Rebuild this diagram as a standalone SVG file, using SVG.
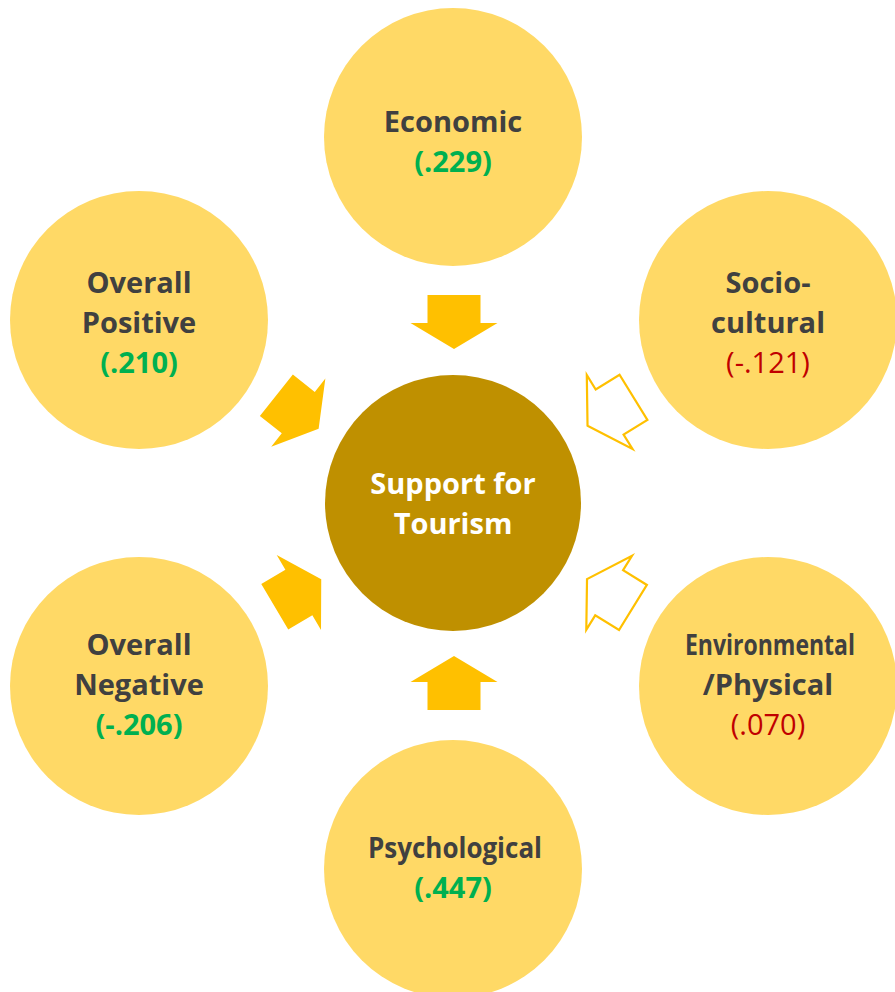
<svg xmlns="http://www.w3.org/2000/svg" width="895" height="992" viewBox="0 0 895 992">
  <style>
    .sat { fill: #FFD966; }
    .hub { fill: #BF9000; }
    .lbl { font-family: "Open Sans", "Noto Sans", "DejaVu Sans", sans-serif; font-size: 29px; font-weight: bold; fill: #404040; text-anchor: middle; }
    .hubl { font-family: "Open Sans", "Noto Sans", "DejaVu Sans", sans-serif; font-size: 29px; font-weight: bold; fill: #FFFFFF; text-anchor: middle; }
    .pos { font-family: "Open Sans", "Noto Sans", "DejaVu Sans", sans-serif; font-size: 29px; font-weight: bold; fill: #00B050; text-anchor: middle; }
    .neg { font-family: "Open Sans", "Noto Sans", "DejaVu Sans", sans-serif; font-size: 29px; font-weight: normal; fill: #C00000; text-anchor: middle; }
    .afill { fill: #FFC000; stroke: none; }
    .aline { fill: none; stroke: #FFC000; stroke-width: 2.2; stroke-linejoin: miter; }
  </style>
  <defs>
    <path id="arr" d="M0,27 L43.5,1 L26.5,1 L26.5,-27 L-26.5,-27 L-26.5,1 L-43.5,1 Z"/>
  </defs>

  <g id="economic">
    <circle class="sat" cx="453" cy="137" r="129"/>
    <text class="lbl" x="453" y="132">Economic</text>
    <text class="pos" x="453" y="172">(.229)</text>
  </g>

  <g id="overall-positive">
    <circle class="sat" cx="139" cy="320" r="129"/>
    <text class="lbl" x="139" y="293">Overall</text>
    <text class="lbl" x="139" y="333">Positive</text>
    <text class="pos" x="139" y="373">(.210)</text>
  </g>

  <g id="socio-cultural">
    <circle class="sat" cx="768" cy="320" r="129"/>
    <text class="lbl" x="768" y="293">Socio-</text>
    <text class="lbl" x="768" y="333">cultural</text>
    <text class="neg" x="768" y="373">(-.121)</text>
  </g>

  <g id="overall-negative">
    <circle class="sat" cx="139" cy="686" r="129"/>
    <text class="lbl" x="139" y="655">Overall</text>
    <text class="lbl" x="139" y="695">Negative</text>
    <text class="pos" x="139" y="735">(-.206)</text>
  </g>

  <g id="environmental-physical">
    <circle class="sat" cx="768" cy="686" r="129"/>
    <text class="lbl" x="770" y="655" textLength="170" lengthAdjust="spacingAndGlyphs">Environmental</text>
    <text class="lbl" x="768" y="695">/Physical</text>
    <text class="neg" x="768" y="735">(.070)</text>
  </g>

  <g id="psychological">
    <circle class="sat" cx="453" cy="869" r="129"/>
    <text class="lbl" x="455" y="858" textLength="174" lengthAdjust="spacingAndGlyphs">Psychological</text>
    <text class="pos" x="453" y="898">(.447)</text>
  </g>

  <g id="support-for-tourism">
    <circle class="hub" cx="453" cy="503" r="128"/>
    <text class="hubl" x="453" y="494">Support for</text>
    <text class="hubl" x="453" y="534">Tourism</text>
  </g>

  <g id="connectors">
    <use href="#arr" class="afill" transform="translate(454,322)"/>
    <use href="#arr" class="afill" transform="translate(454,683) rotate(180)"/>
    <use href="#arr" class="afill" transform="translate(297.5,412) rotate(-51.5)"/>
    <use href="#arr" class="afill" transform="translate(298,593) rotate(-120.6)"/>
    <use href="#arr" class="aline" transform="translate(610.5,411.5) rotate(58.3)"/>
    <use href="#arr" class="aline" transform="translate(610,593.3) rotate(121.7)"/>
  </g>
</svg>
